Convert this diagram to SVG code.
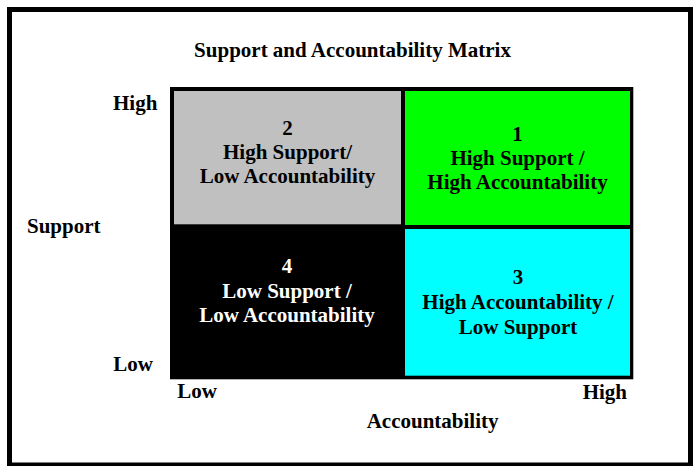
<svg xmlns="http://www.w3.org/2000/svg" width="694" height="466" viewBox="0 0 694 466">
<style>
text{font-family:"Liberation Serif","Times New Roman",serif;font-weight:bold;font-size:21px;fill:#000}
.c{text-anchor:middle}
.w{fill:#fff}
</style>
<rect x="0" y="0" width="694" height="466" fill="#fff"/>
<rect id="frame" x="9.5" y="9.5" width="681" height="455.5" fill="none" stroke="#000" stroke-width="5"/>
<text id="title" class="c" x="352.5" y="56.7">Support and Accountability Matrix</text>
<g id="matrix">
<rect x="170" y="87" width="463.3" height="292.3" fill="#000"/>
</g>
<g id="q2">
<rect x="174" y="91" width="227" height="133.3" fill="#c0c0c0"/>
<text class="c" x="287.5" y="135">2</text>
<text class="c" x="287.5" y="159">High Support/</text>
<text class="c" x="287.5" y="183.3">Low Accountability</text>
</g>
<g id="q1">
<rect x="405" y="91" width="225" height="134" fill="#00ff00"/>
<text class="c" x="517.5" y="141">1</text>
<text class="c" x="517.5" y="165">High Support /</text>
<text class="c" x="517.5" y="189.3">High Accountability</text>
</g>
<g id="q4">
<text class="c w" x="287" y="273.3">4</text>
<text class="c w" x="287" y="298.3">Low Support /</text>
<text class="c w" x="287" y="321.7">Low Accountability</text>
</g>
<g id="q3">
<rect x="405" y="229" width="225" height="146.7" fill="#00ffff"/>
<text class="c" x="518" y="284.3">3</text>
<text class="c" x="518" y="309.3">High Accountability /</text>
<text class="c" x="518" y="334.3">Low Support</text>
</g>
<g id="axes">
<text x="113" y="110">High</text>
<text x="27" y="232.7">Support</text>
<text x="113.3" y="370.7">Low</text>
<text x="177.3" y="398.3">Low</text>
<text x="582.7" y="399">High</text>
<text x="366.7" y="428.3">Accountability</text>
</g>
</svg>
